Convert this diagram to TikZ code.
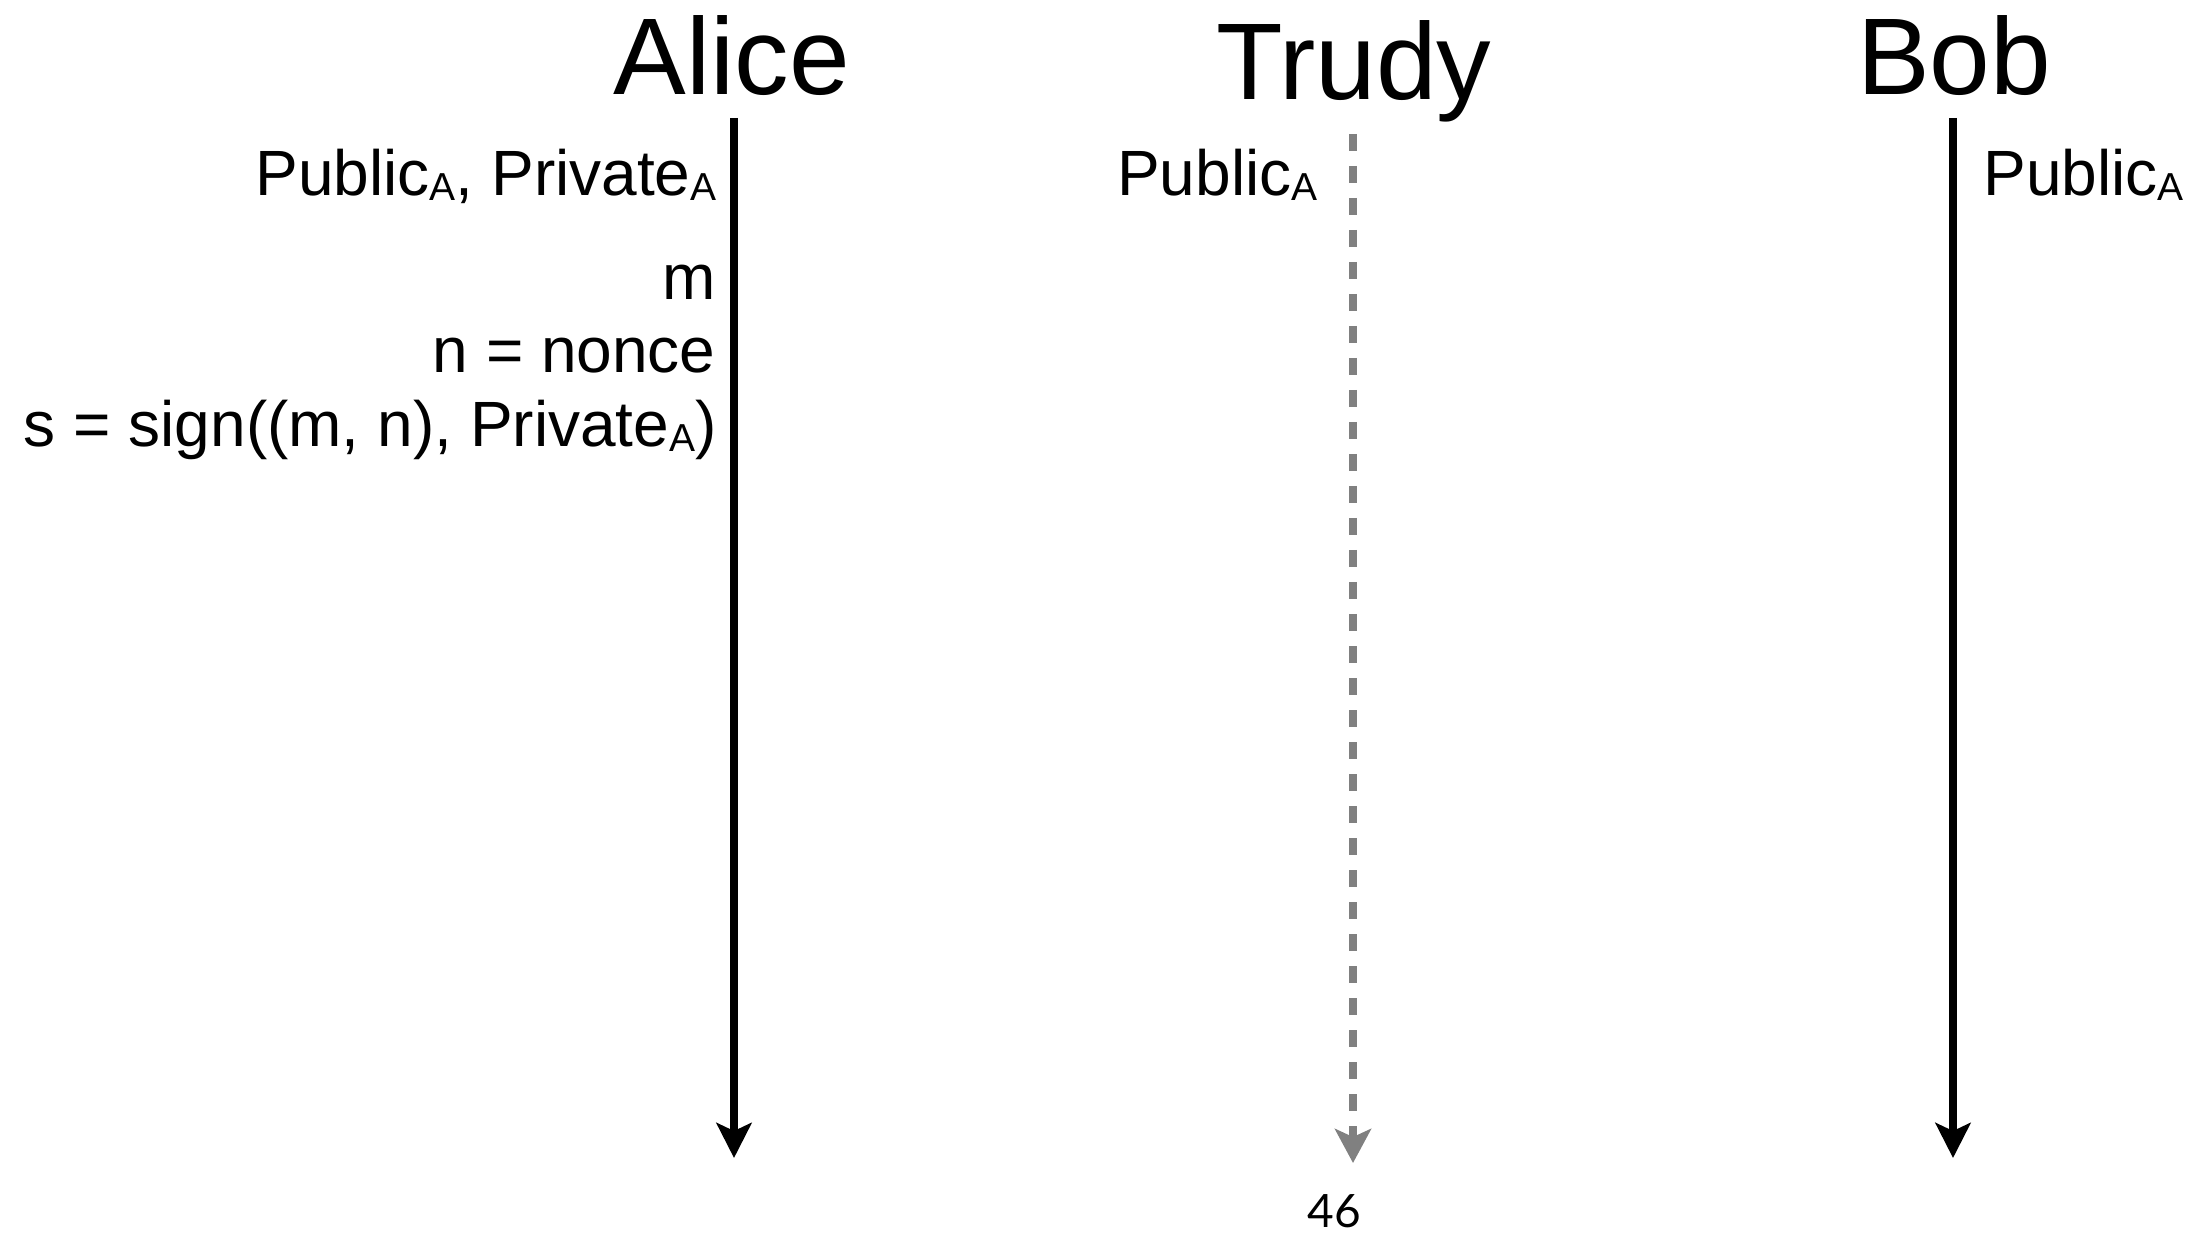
\documentclass[tikz,border=0pt]{standalone}
\usepackage{fontspec}
\setmainfont{Liberation Sans}
\newfontfamily\pagenumfont{Lato}
\usetikzlibrary{arrows.meta}

% subscript "A" as set in the slide
\newcommand\keysub{\raisebox{-2.5pt}{\fontsize{19.5pt}{20pt}\selectfont A}}

\tikzset{
  party/.style={font=\fontsize{54.5pt}{60pt}\selectfont, inner sep=0pt, anchor=base},
  lbl/.style={font=\fontsize{32pt}{36pt}\selectfont, inner sep=0pt},
  life/.style={line width=3.8pt, black,
    -{Stealth[length=17.5pt, width=17.5pt, inset=4pt]}},
  spyline/.style={line width=4pt, color=gray, dash pattern=on 8.5pt off 7.5pt,
    -{Stealth[length=17pt, width=18pt, inset=4pt]}}
}

\begin{document}
\begin{tikzpicture}[x=0.5pt, y=-0.5pt]
  \path[use as bounding box] (0,0) rectangle (2193,1234);

  % participants
  \node[party] (alice) at (732,95) {Alice};
  \node[party] (trudy) at (1354,100) {Trudy};
  \node[party] (bob)   at (1954,95) {Bob};

  % lifelines
  \coordinate (aliceTop) at (734,118);
  \coordinate (aliceEnd) at (734,1158);
  \coordinate (trudyTop) at (1353,134);
  \coordinate (trudyEnd) at (1353,1163);
  \coordinate (bobTop)   at (1953,118);
  \coordinate (bobEnd)   at (1953,1158);

  \draw[life] (aliceTop) -- (aliceEnd);
  \draw[spyline] (trudyTop) -- (trudyEnd);
  \draw[life] (bobTop) -- (bobEnd);

  % Alice's knowledge and steps
  \node[lbl, anchor=base east] (aliceKeys) at (717,196) {Public\keysub, Private\keysub};
  \node[lbl, anchor=base east] (msg)   at (716,300) {m};
  \node[lbl, anchor=base east] (nonce) at (716,373) {n = nonce};
  \node[lbl, anchor=base east] (sig)   at (717,447) {s = sign((m, n), Private\keysub)};

  % what Trudy and Bob know
  \node[lbl, anchor=base east] (trudyKeys) at (1318,196) {Public\keysub};
  \node[lbl, anchor=base west] (bobKeys)   at (1983,196) {Public\keysub};

  % slide number
  \node[font=\pagenumfont\fontsize{23pt}{25pt}\selectfont, inner sep=0pt, anchor=base]
    (pagenum) at (1334,1227) {46};
\end{tikzpicture}
\end{document}
